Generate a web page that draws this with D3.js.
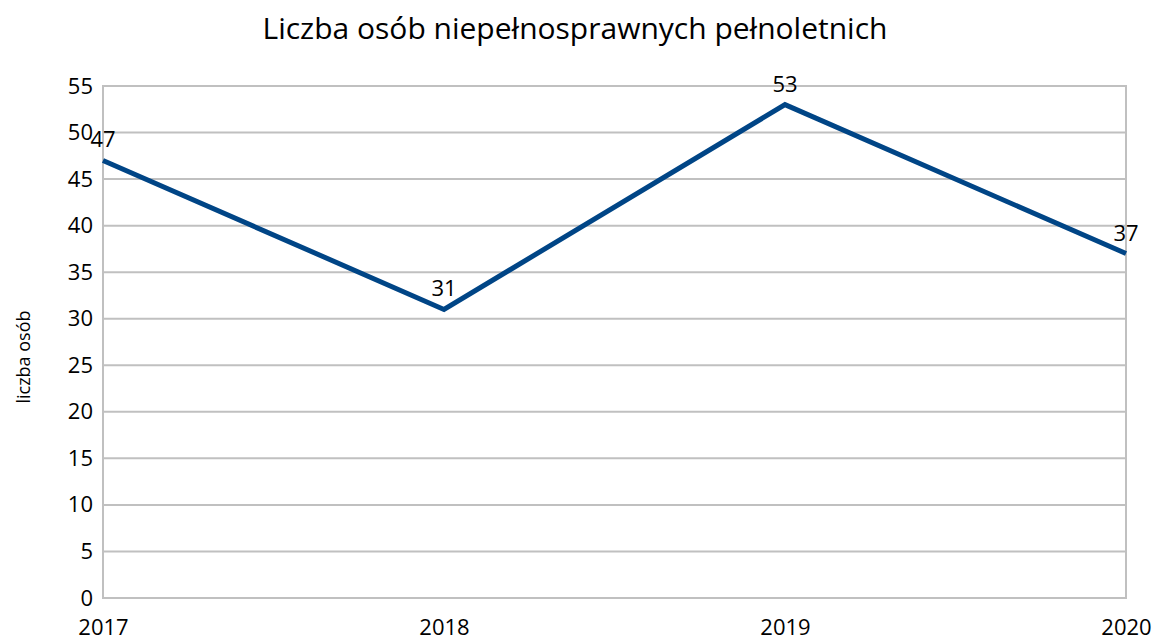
<!DOCTYPE html>
<html>
<head>
<meta charset="utf-8">
<script src="https://cdn.jsdelivr.net/npm/d3@7"></script>
<style>
  body { margin: 0; background: #fff; }
  text { font-family: "Open Sans", sans-serif; fill: #000; }
</style>
</head>
<body>
<script>
var w = 1158;
var h = 641;

var years = ["2017", "2018", "2019", "2020"];
var values = [47, 31, 53, 37];
var yTicks = [0, 5, 10, 15, 20, 25, 30, 35, 40, 45, 50, 55];

var margin = {top: 86, right: 32, bottom: 43, left: 103};

var svg = d3.select("body")
  .append("svg")
  .attr("width", w)
  .attr("height", h);

var x = d3.scalePoint()
  .domain(years)
  .range([margin.left, w - margin.right]);

var y = d3.scaleLinear()
  .domain([0, 55])
  .range([h - margin.bottom, margin.top]);

// gridlines
svg.append("g")
  .selectAll("line")
  .data(yTicks)
  .enter().append("line")
  .attr("x1", margin.left)
  .attr("x2", w - margin.right)
  .attr("y1", function(d) { return y(d); })
  .attr("y2", function(d) { return y(d); })
  .attr("stroke", "#c0c0c0")
  .attr("stroke-width", 2);

// plot frame
svg.append("rect")
  .attr("x", margin.left)
  .attr("y", margin.top)
  .attr("width", w - margin.right - margin.left)
  .attr("height", y(0) - margin.top)
  .attr("fill", "none")
  .attr("stroke", "#c0c0c0")
  .attr("stroke-width", 2);

// y axis
var yAxis = svg.append("g")
  .attr("transform", "translate(" + margin.left + ",0)")
  .call(d3.axisLeft(y).tickValues(yTicks).tickSize(0).tickPadding(10));
yAxis.select(".domain").remove();
yAxis.selectAll("text")
  .attr("font-size", 22)
  .attr("font-family", "'Open Sans', sans-serif")
  .attr("fill", "#000");

// x axis
var xAxis = svg.append("g")
  .attr("transform", "translate(0," + y(0) + ")")
  .call(d3.axisBottom(x).tickSize(0).tickPadding(0));
xAxis.select(".domain").remove();
xAxis.selectAll("text")
  .attr("dy", null)
  .attr("y", 37)
  .attr("font-size", 22)
  .attr("font-family", "'Open Sans', sans-serif")
  .attr("fill", "#000");

// line
var line = d3.line()
  .x(function(d, i) { return x(years[i]); })
  .y(function(d) { return y(d); });

svg.append("path")
  .datum(values)
  .attr("d", line)
  .attr("fill", "none")
  .attr("stroke", "#004586")
  .attr("stroke-width", 5)
  .attr("stroke-linejoin", "miter");

// data labels
svg.append("g")
  .selectAll("text")
  .data(values)
  .enter().append("text")
  .attr("x", function(d, i) { return x(years[i]); })
  .attr("y", function(d) { return y(d) - 13; })
  .attr("text-anchor", "middle")
  .attr("font-size", 22)
  .text(function(d) { return d; });

// title
svg.append("text")
  .attr("x", 575)
  .attr("y", 39)
  .attr("text-anchor", "middle")
  .attr("font-size", 30)
  .text("Liczba osób niepełnosprawnych pełnoletnich");

// y label
svg.append("text")
  .attr("transform", "translate(30," + 357 + ") rotate(-90)")
  .attr("text-anchor", "middle")
  .attr("font-size", 18)
  .text("liczba osób");
</script>
</body>
</html>
